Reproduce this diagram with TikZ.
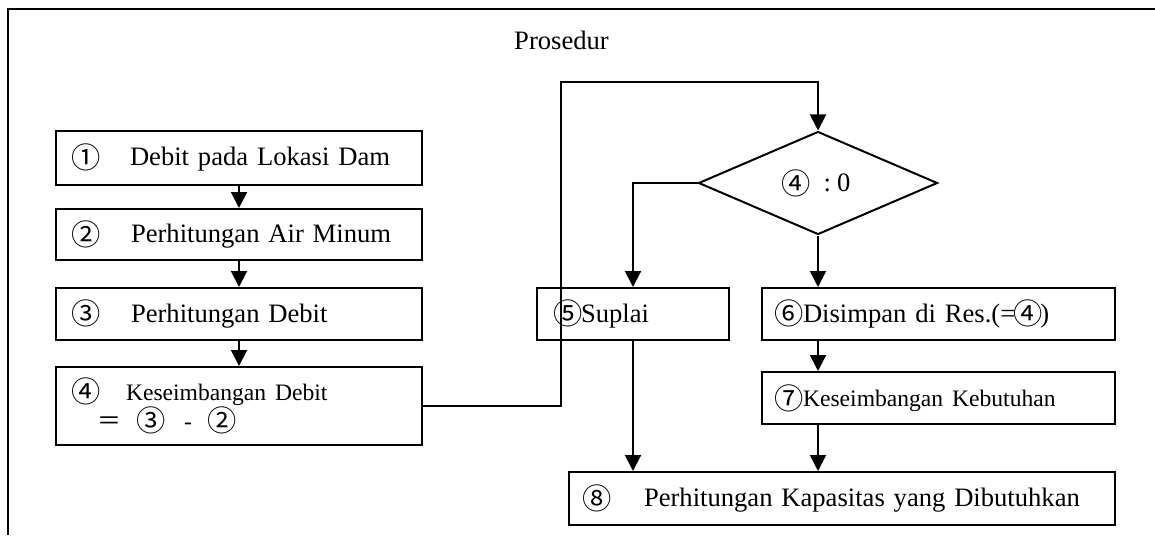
\documentclass[tikz,border=0pt]{standalone}
\usepackage{fontspec}
\setmainfont{Liberation Serif}
\newfontfamily\jp[Scale=1.1]{Noto Sans CJK JP}
\newfontfamily\jpeq[Scale=0.9]{Noto Sans CJK JP}
\usetikzlibrary{shapes.geometric,arrows.meta}
\newcommand\cn[1]{\makebox[10pt][c]{\raisebox{-1.2pt}{\jp #1}}}
\newcommand\smallfnt{\fontsize{11.8pt}{13pt}\selectfont}
\begin{document}
\begin{tikzpicture}[x=0.5pt,y=-0.5pt,
  line width=1pt,
  every node/.style={font=\fontsize{13.3pt}{13pt}\selectfont},
  box/.style={draw, rectangle, inner ysep=0pt, align=left},
  arr/.style={-{Triangle[width=8pt,length=8pt]}},
]
\useasboundingbox (0,0) rectangle (1155,535);
\draw (7.5,535) -- (7.5,9) -- (1155,9);

\node (title) at (561.5,40) {Prosedur};

\node[box, minimum width=183pt, minimum height=27pt, text width=163pt, inner xsep=10pt] (b1) at (239,157.5) {\cn{①}\hspace{17pt}Debit pada Lokasi Dam};
\node[box, minimum width=183pt, minimum height=25.5pt, text width=163pt, inner xsep=10pt] (b2) at (239,234.5) {\cn{②}\hspace{17.5pt}Perhitungan Air Minum};
\node[box, minimum width=183pt, minimum height=26pt, text width=163pt, inner xsep=10pt] (b3) at (239,314) {\cn{③}\hspace{17.5pt}Perhitungan Debit};
\node[box, minimum width=183pt, minimum height=39pt, text width=163pt, inner xsep=10pt] (b4) at (239,406) {\cn{④}\hspace{15pt}{\smallfnt Keseimbangan Debit}\\\hspace*{12pt}\makebox[9pt][c]{\jpeq ＝}\hspace{11.5pt}\cn{③}\hspace{11.5pt}{\smallfnt -}\hspace{10pt}\cn{②}};

\node[draw, diamond, aspect=2.3, minimum width=119.5pt, minimum height=51.5pt, inner sep=0pt] (dia) at (818,183) {\cn{④}\hspace{9pt}:\hspace{3pt}0\hspace{19.5pt}};

\node[box, minimum width=96pt, minimum height=26pt, text width=75pt, inner xsep=10.5pt] (b5) at (633,314) {\cn{⑤}\hspace{1.5pt}Suplai};
\node[box, minimum width=176.5pt, minimum height=26pt, text width=159.5pt, inner xsep=8.5pt] (b6) at (938.5,314) {\cn{⑥}\hspace{2pt}Disimpan di Res.(=\hspace{1.5pt}\cn{④}\hspace{1pt})};
\node[box, minimum width=176.5pt, minimum height=26pt, text width=159.5pt, inner xsep=8.5pt] (b7) at (938.5,398) {\cn{⑦}\hspace{2pt}{\smallfnt Keseimbangan Kebutuhan}};
\node[box, minimum width=273pt, minimum height=26.5pt, text width=255pt, inner xsep=9pt] (b8) at (842,498.5) {\cn{⑧}\hspace{18.5pt}Perhitungan Kapasitas yang Dibutuhkan};

\coordinate (c1) at (561,82);

\draw[arr] (b1) -- (b2);
\draw[arr] (b2) -- (b3);
\draw[arr] (b3) -- (b4);
\draw[arr] (b4.east) -| (c1) -| (dia.north);
\draw[arr] (dia.west) -| (b5.north);
\draw[arr] (dia.south) -- (dia.south |- b6.north);
\draw[arr] (dia.south |- b6.south) -- (dia.south |- b7.north);
\draw[arr] (dia.south |- b7.south) -- (dia.south |- b8.north);
\draw[arr] (b5.south) -- (b5.south |- b8.north);
\end{tikzpicture}
\end{document}
